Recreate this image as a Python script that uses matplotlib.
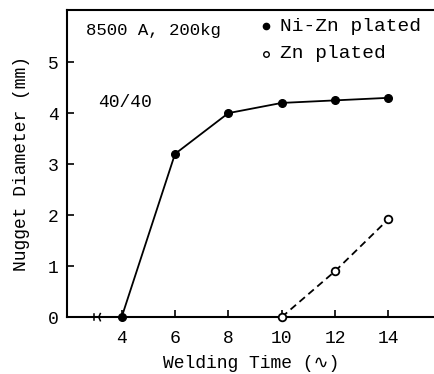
import matplotlib.pyplot as plt
from matplotlib.lines import Line2D

# data
tiempo_nizn = [4, 6, 8, 10, 12, 14]
diam_nizn = [0, 3.2, 4.0, 4.2, 4.25, 4.3]
tiempo_zn = [10, 12, 14]
diam_zn = [0, 0.9, 1.92]
xticks = [4, 6, 8, 10, 12, 14]
yticks = [0, 1, 2, 3, 4, 5]

fuente = ['Liberation Mono', 'DejaVu Sans Mono', 'DejaVu Sans']
plt.rcParams['font.family'] = fuente
plt.rcParams['font.size'] = 13

fig = plt.figure(figsize=(4.35, 3.74), dpi=100)
ax = fig.add_axes([0.154, 0.152, 0.846, 0.821])

ax.plot(tiempo_nizn, diam_nizn, '-o', color='black', lw=1.3, ms=5.5, clip_on=False, zorder=3)
ax.plot(tiempo_zn, diam_zn, '--o', color='black', lw=1.3, ms=5.5, mfc='white', mew=1.3,
        dashes=(4, 2.5), clip_on=False, zorder=3)

ax.set_xlim(1.95, 15.75)
ax.set_ylim(0, 6.02)
ax.set_xticks(xticks)
ax.set_yticks(yticks)
ax.tick_params(direction='in', length=5, width=1.2, labelsize=13)
ax.tick_params(axis='x', pad=9)
ax.tick_params(axis='y', pad=6)
ax.spines['right'].set_visible(False)
for s in ['left', 'bottom', 'top']:
    ax.spines[s].set_linewidth(1.5)

# corte del eje de tiempo
ax.add_line(Line2D([2.95, 2.95], [-0.06, 0.06], color='black', lw=1.1,
                   clip_on=False, zorder=5))
ax.add_line(Line2D([3.2, 3.14, 3.2], [-0.07, 0, 0.07], color='black', lw=1.1,
                   clip_on=False, zorder=5))

ax.set_xlabel('Welding Time (\u223f)', fontsize=13, labelpad=6)
ax.set_ylabel('Nugget Diameter (mm)', fontsize=13, labelpad=13)

ax.text(0.052, 0.935, '8500 A, 200kg', transform=ax.transAxes, fontsize=12.5, va='center')
ax.text(0.085, 0.70, '40/40', transform=ax.transAxes, fontsize=13, va='center')
ax.plot([0.54], [0.947], 'o', color='black', ms=4.5, transform=ax.transAxes)
ax.text(0.58, 0.947, 'Ni-Zn plated', transform=ax.transAxes, fontsize=14, va='center')
ax.plot([0.54], [0.858], 'o', color='black', ms=4, mfc='white', transform=ax.transAxes)
ax.text(0.58, 0.858, 'Zn plated', transform=ax.transAxes, fontsize=14, va='center')

plt.savefig('out.png', dpi=100)
